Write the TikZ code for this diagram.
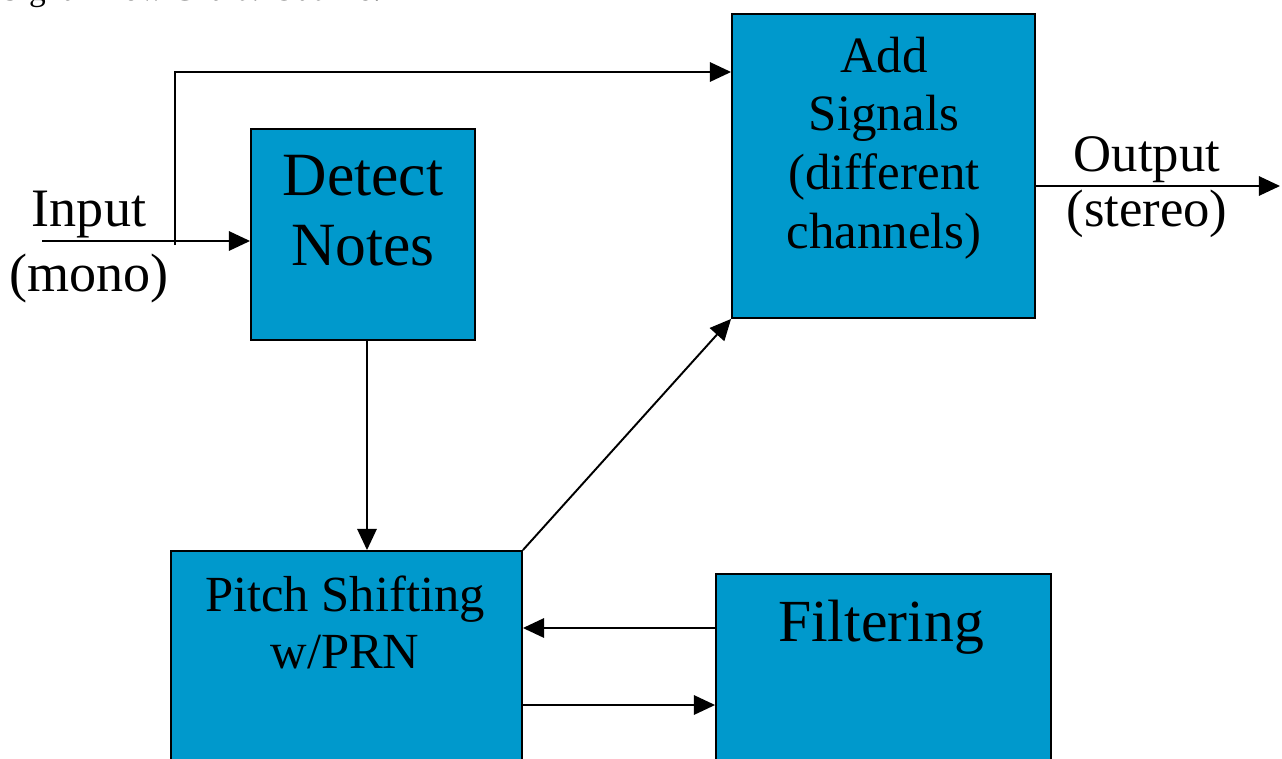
\documentclass[tikz,border=0pt]{standalone}
\usepackage{fontspec}
\setmainfont{Liberation Serif}
\usetikzlibrary{arrows.meta}
\definecolor{blkblue}{RGB}{0,153,204}
\tikzset{blk/.style={draw=black, line width=1.1pt, fill=blkblue, inner sep=0pt},
sig/.style={line width=1.1pt, -{Triangle[length=12pt,width=11pt]}},
lbl/.style={align=center, inner sep=0pt}}

\begin{document}
\begin{tikzpicture}[x=0.02cm,y=-0.02cm]
\useasboundingbox (0,0) rectangle (1282,758);
\clip (0,0) rectangle (1282,758);
\node[anchor=base west, inner sep=0pt, font=\fontsize{19}{22}\selectfont] (title) at (1,0.5) {Signal Flow Chart / Outline:};
% blocks
\node[blk, minimum width=4.48cm, minimum height=4.22cm] (detect) at (363,234.5) {};
\node[blk, minimum width=6.06cm, minimum height=6.08cm] (add) at (883.5,166) {};
\node[blk, minimum width=7.02cm, minimum height=4.6cm] (pitch) at (346.5,666) {};
\node[blk, minimum width=6.7cm, minimum height=4.4cm] (filter) at (883.5,684) {};
% texts
\node[lbl, anchor=north, font=\fontsize{35}{39.7}\selectfont] (detecttxt) at (363,155) {Detect\\Notes};
\node[lbl, anchor=north, font=\fontsize{29}{33.5}\selectfont] (addtxt) at (884,36.4) {Add\\Signals\\(different\\channels)};
\node[lbl, anchor=north, font=\fontsize{28.8}{32.3}\selectfont] (pitchtxt) at (345,575.3) {Pitch Shifting\\w/PRN};
\node[lbl, anchor=base, font=\fontsize{34}{40}\selectfont] (filtertxt) at (881,641) {Filtering};
\node[lbl, anchor=north, font=\fontsize{30.8}{36.9}\selectfont] (intxt) at (89,190.7) {Input\\(mono)};
\node[lbl, anchor=north, font=\fontsize{30}{31.2}\selectfont] (outtxt) at (1147,136) {Output\\(stereo)};
% connectors
\coordinate (in) at (42,241);
\coordinate (tap) at (175,245);
\coordinate (feed) at (175,72);
\coordinate (drop) at (367,340);
\coordinate (out) at (1280,186);
\draw[sig] (in) -- (in -| detect.west);
\draw[sig] (tap) -- (feed) -- (feed -| add.west);
\draw[sig] (drop) -- (drop |- pitch.north);
\draw[sig] (pitch.north east) -- (add.south west);
\draw[sig] (filter.west |- 0,628) -- (pitch.east |- 0,628);
\draw[sig] (pitch.east |- 0,705) -- (filter.west |- 0,705);
\draw[sig] (add.east |- out) -- (out);
\end{tikzpicture}
\end{document}
